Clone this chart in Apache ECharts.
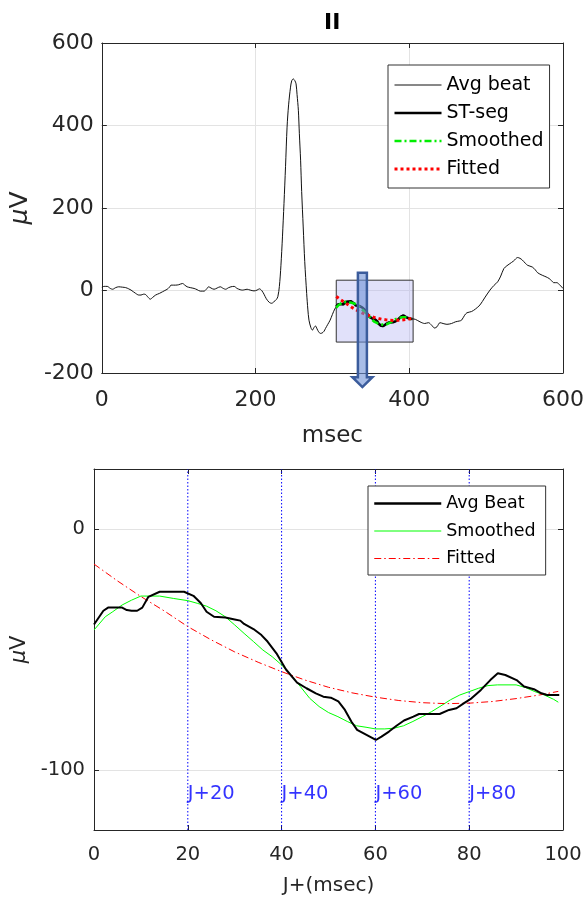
<!DOCTYPE html>
<html><head><meta charset="utf-8">
<script src="https://cdn.jsdelivr.net/npm/echarts@6/dist/echarts.min.js"></script>
<style>html,body{margin:0;padding:0;background:#fff}#c{width:587px;height:897px}</style>
</head><body><div id="c"></div>
<script>
const FONT = 'DejaVu Sans';

// ---------- Top panel: averaged beat, lead II (msec, µV) ----------
const beatPreMsec = [0,3,7,11,14,18,22,27,31,35,38,41,44,48,51,54,56,60,63,66,70,75,79,82,85,88,90,93,96,100,105,108,111,115,120,124,128,133,136,139,142,146,150,154,158,161,165,168,172,176,180,183,186,189,193,198,202,205,208,211,214,218,221,224,227,229,231,233,235,237,239,241,243,245.5,247,249,251,252.7,254,255.7,257,258.6,260,262,264,266.5,268,269.5,272,274,276,278,280,282,284.4,286.6,289,291,294,297,300,303];
const beatPreUv   = [8,10,10,5,3,7,9,8,7,4,1,-3,-7,-11,-11,-9,-9,-16,-21,-17,-11,-7,-3,0,3,8,13,13,13,14,17,13,9,7,5,2,-1.5,-1.5,3,9,6,3,6,9,5,3,7,9,10,5,2,1,2,3,1,-1,1,4,0,-9,-20,-29,-31,-27,-22,-15,10,60,130,211,300,396,450,493,508,513,509,501,475,437,380,316,240,154,70,-7,-45,-72,-90,-96,-90,-86,-93,-100,-104,-103,-99,-92,-82,-72,-58,-45];
const beatPostMsec = [408,414,420,425,429,433,436,440,444,449,455,460,465,468,472,475,481,486,492,498,505,510,515,519,523,527,530,536,541,544,547,551,554,560,564,567,573,578,582,585,588,592,596,600];
const beatPostUv   = [-70,-76,-80,-78,-84,-91,-88,-78,-80,-82,-80,-76,-74,-72,-60,-54,-51,-45,-35,-18,1,12,21,35,53,60,64,72,80,78,74,66,61,57,50,43,37,33,29,24,19,19,13,5];
const jPointMsec = 305;           // J point: start of the ST window
const stBoxMsec = [305, 405];     // highlighted window
const stBoxUv = [25, -125];
const arrowMsec = 339;            // arrow pointing to the zoomed panel
const arrowUv = [43, -210, -234]; // shaft top, head base, tip

// ---------- Bottom panel: ST segment (J+ msec, µV) ----------
const stMsec  = [0,2,3,6,7,8,9.2,10.3,11.6,14,19.2,21.2,22.8,24,25.6,28,30,31.2,32,34,35.7,37,38.9,40.9,43.3,45.3,47.3,48.9,50.5,52.1,53.5,54.9,56.1,58.1,60.1,61.3,62.9,64.5,66.1,68.1,69.3,73.7,75.7,77.3,78.9,80.5,82.5,84.5,86.1,87.7,90.1,91.7,93.8,95.4,96.6,99.2];
const stAvgUv = [-39.6,-33.9,-32.6,-32.6,-33.6,-33.9,-33.9,-32.6,-28.1,-26,-26,-27.7,-30.8,-34.3,-36.4,-36.7,-37.5,-38,-39.4,-41.5,-44,-46.7,-51.6,-58.2,-63.8,-66.1,-68.2,-69.6,-70,-71.6,-75.1,-80,-83.4,-85.5,-87.6,-86.2,-84.1,-81.7,-79.5,-77.9,-76.8,-76.8,-75.1,-74.4,-72.3,-70.3,-66.8,-62.7,-59.9,-60.6,-62.7,-65.4,-66.5,-68.2,-68.9,-68.9];
const smMsec  = [0,2.4,4,6,8,10,14,17,20,22,24,26,28,30,32,34,36,38,40,42,44,46,48,50,52,54,56,58,60,62,64,66,68,70,72,74,76,78,80,82,84,86,90,92,94,96,98,99];
const smUv    = [-41.9,-36.4,-34.3,-31.5,-29.5,-27.8,-27.8,-28.8,-29.7,-30.8,-32,-33.9,-36.4,-39.8,-43.3,-46.7,-50.2,-53,-56.4,-60.6,-65.4,-70.3,-73.7,-76.2,-77.9,-79.9,-81.7,-82.3,-83,-83,-82.7,-81.7,-79.9,-77.9,-75.8,-73.4,-70.9,-68.9,-67.5,-66.1,-65,-64.7,-64.7,-65.8,-67.5,-68.9,-70.7,-71.9];
const fitMsec = [0,5,10,15,20,25,30,35,40,45,50,55,60,65,70,75,80,85,90,95,99];
const fitUv   = [-14.5,-21.5,-28,-34,-40.5,-46,-51,-55.3,-59.2,-62.7,-65.7,-68,-69.8,-71.2,-72.1,-72.5,-72.3,-71.6,-70.4,-68.9,-67.4];
const jMarkMsec = [20, 40, 60, 80];
const jMarkLabels = ['J+20', 'J+40', 'J+60', 'J+80'];
const jLabelUv = -110;

// tick values
const topXTicks = [0, 600, 200];      // min, max, interval
const topYTicks = [-200, 600, 200];
const botXTicks = [0, 100, 20];
const botYRange = [-125, 25];
const botYTickValues = [-100, 0];

// ---------- helpers ----------
const zip = (xs, ys, dx = 0) => xs.map((x, i) => [x + dx, ys[i]]);
const AX = '#262626';
const GRID = '#e3e3e3';
const JBLUE = '#0000ff';

function axisBase(extra) {
  return Object.assign({
    type: 'value',
    axisLine: { show: true, onZero: false, lineStyle: { color: AX, width: 1 } },
    axisTick: { show: true, inside: true, length: 5, lineStyle: { color: AX } },
    splitLine: { show: false },
    axisLabel: { show: false }
  }, extra);
}

const topAvg = zip(beatPreMsec, beatPreUv)
  .concat(zip(stMsec, stAvgUv, jPointMsec))
  .concat(zip(beatPostMsec, beatPostUv));

const styles = {
  avgTop: { color: '#111', width: 1 },
  stTop: { color: '#000', width: 2.6 },
  smTop: { color: '#00ee00', width: 2.6, type: [7, 3, 2, 3] },
  fitTop: { color: '#ff0000', width: 3, type: [3, 3] },
  avgBot: { color: '#000', width: 2 },
  smBot: { color: '#00ff00', width: 1 },
  fitBot: { color: '#ff0000', width: 1, type: [7, 3, 1.5, 3] },
  jLine: { color: JBLUE, width: 1, type: [1.5, 2] }
};

const jLineSeries = jMarkMsec.map(v => ({
  name: 'J+' + v + ' line', type: 'line', xAxisIndex: 2, yAxisIndex: 2, z: 2,
  data: [[v, botYRange[0]], [v, botYRange[1]]], symbol: 'none', silent: true,
  lineStyle: styles.jLine, itemStyle: { color: JBLUE }
}));

const chart = echarts.init(document.getElementById('c'), null, { renderer: 'canvas' });

const option = {
  animation: false,
  backgroundColor: '#fff',
  textStyle: { fontFamily: FONT },
  title: {
    text: 'II', left: 324, top: 12, padding: 0,
    textStyle: { fontFamily: FONT, fontSize: 22, fontWeight: 'bold', color: '#000' }
  },
  grid: [
    { left: 101, top: 43, width: 462, height: 330 },
    { left: 94, top: 469, width: 469, height: 361 }
  ],
  legend: [
    {
      data: [
        { name: 'Avg beat', lineStyle: styles.avgTop },
        { name: 'ST-seg', lineStyle: styles.stTop },
        { name: 'Smoothed', lineStyle: styles.smTop },
        { name: 'Fitted', lineStyle: styles.fitTop }
      ],
      orient: 'vertical', left: 388, top: 65,
      padding: [10, 6, 9, 5], itemGap: 8, itemWidth: 47, itemHeight: 12,
      backgroundColor: '#fff', borderColor: '#333', borderWidth: 1, borderRadius: 0,
      selectedMode: false,
      itemStyle: { opacity: 0 },
      textStyle: { fontFamily: FONT, fontSize: 19, color: '#000', lineHeight: 20 }
    },
    {
      data: [
        { name: 'Avg Beat', lineStyle: { color: '#000', width: 2.5 } },
        { name: 'Smoothed_b', lineStyle: styles.smBot },
        { name: 'Fitted_b', lineStyle: styles.fitBot }
      ],
      formatter: n => n.replace(/_b$/, ''),
      orient: 'vertical', left: 368, top: 486,
      padding: [8, 10, 7, 5], itemGap: 8.5, itemWidth: 67, itemHeight: 12,
      backgroundColor: '#fff', borderColor: '#333', borderWidth: 1, borderRadius: 0,
      selectedMode: false,
      itemStyle: { opacity: 0 },
      textStyle: { fontFamily: FONT, fontSize: 17.5, color: '#000', lineHeight: 19 }
    }
  ],
  xAxis: [
    axisBase({
      gridIndex: 0, position: 'bottom', min: topXTicks[0], max: topXTicks[1], interval: topXTicks[2],
      axisLabel: { show: true, color: AX, fontSize: 22, fontFamily: FONT, margin: 16 },
      splitLine: { show: true, lineStyle: { color: GRID, width: 1 } },
      name: 'msec', nameLocation: 'middle', nameGap: 52,
      nameTextStyle: { fontFamily: FONT, fontSize: 23, color: AX }
    }),
    axisBase({ gridIndex: 0, position: 'top', min: topXTicks[0], max: topXTicks[1], interval: topXTicks[2] }),
    axisBase({
      gridIndex: 1, position: 'bottom', min: botXTicks[0], max: botXTicks[1], interval: botXTicks[2],
      axisLabel: { show: true, color: AX, fontSize: 19.5, fontFamily: FONT, margin: 15 },
      splitLine: { show: false },
      name: 'J+(msec)', nameLocation: 'middle', nameGap: 46,
      nameTextStyle: { fontFamily: FONT, fontSize: 20, color: AX }
    }),
    axisBase({ gridIndex: 1, position: 'top', min: botXTicks[0], max: botXTicks[1], interval: botXTicks[2] })
  ],
  yAxis: [
    axisBase({
      gridIndex: 0, position: 'left', min: topYTicks[0], max: topYTicks[1], interval: topYTicks[2],
      axisLabel: { show: true, color: AX, fontSize: 22, fontFamily: FONT, margin: 8 },
      splitLine: { show: true, lineStyle: { color: GRID, width: 1 } },
      name: '{i|μ}V', nameLocation: 'middle', nameGap: 54, nameRotate: 90,
      nameTextStyle: { fontFamily: FONT, fontSize: 25, color: AX, rich: { i: { fontFamily: FONT, fontSize: 25, fontStyle: 'italic', color: AX } } }
    }),
    axisBase({ gridIndex: 0, position: 'right', min: topYTicks[0], max: topYTicks[1], interval: topYTicks[2] }),
    axisBase({
      gridIndex: 1, position: 'left', min: botYRange[0], max: botYRange[1],
      axisTick: { show: true, inside: true, length: 5, lineStyle: { color: AX }, customValues: botYTickValues },
      axisLabel: { show: true, color: AX, fontSize: 19.5, fontFamily: FONT, margin: 9, customValues: botYTickValues },
      splitLine: { show: true, lineStyle: { color: GRID, width: 1 } },
      name: '{i|μ}V', nameLocation: 'middle', nameGap: 54, nameRotate: 90,
      nameTextStyle: { fontFamily: FONT, fontSize: 21, color: AX, rich: { i: { fontFamily: FONT, fontSize: 21, fontStyle: 'italic', color: AX } } }
    }),
    axisBase({
      gridIndex: 1, position: 'right', min: botYRange[0], max: botYRange[1],
      axisTick: { show: true, inside: true, length: 5, lineStyle: { color: AX }, customValues: botYTickValues },
      axisLabel: { show: false, customValues: botYTickValues }
    })
  ],
  series: [
    {
      name: 'Avg beat', type: 'line', xAxisIndex: 0, yAxisIndex: 0, z: 2,
      data: topAvg, showSymbol: false, symbol: 'none', smooth: 0.3,
      lineStyle: styles.avgTop, itemStyle: { color: '#111' },
      markArea: {
        silent: true,
        itemStyle: { color: 'rgba(170,170,240,0.35)', borderColor: '#333', borderWidth: 1 },
        data: [[{ coord: [stBoxMsec[0], stBoxUv[0]] }, { coord: [stBoxMsec[1], stBoxUv[1]] }]]
      }
    },
    {
      name: 'ST-seg', type: 'line', xAxisIndex: 0, yAxisIndex: 0, z: 3,
      data: zip(stMsec, stAvgUv, jPointMsec), symbol: 'none',
      lineStyle: styles.stTop, itemStyle: { color: '#000' }
    },
    {
      name: 'Smoothed', type: 'line', xAxisIndex: 0, yAxisIndex: 0, z: 4,
      data: zip(smMsec, smUv, jPointMsec), symbol: 'none',
      lineStyle: styles.smTop, itemStyle: { color: '#00ee00' }
    },
    {
      name: 'Fitted', type: 'line', xAxisIndex: 0, yAxisIndex: 0, z: 5,
      data: zip(fitMsec, fitUv, jPointMsec), symbol: 'none',
      lineStyle: styles.fitTop, itemStyle: { color: '#ff0000' }
    },
    ...jLineSeries,
    {
      name: 'Avg Beat', type: 'line', xAxisIndex: 2, yAxisIndex: 2, z: 4,
      data: zip(stMsec, stAvgUv), symbol: 'none',
      lineStyle: styles.avgBot, itemStyle: { color: '#000' }
    },
    {
      name: 'Smoothed_b', type: 'line', xAxisIndex: 2, yAxisIndex: 2, z: 3,
      data: zip(smMsec, smUv), symbol: 'none',
      lineStyle: styles.smBot, itemStyle: { color: '#00ff00' }
    },
    {
      name: 'Fitted_b', type: 'line', xAxisIndex: 2, yAxisIndex: 2, z: 3,
      data: zip(fitMsec, fitUv), symbol: 'none',
      lineStyle: styles.fitBot, itemStyle: { color: '#ff0000' }
    },
    {
      name: 'J labels', type: 'scatter', xAxisIndex: 2, yAxisIndex: 2, z: 6,
      data: jMarkMsec.map((v, i) => ({ value: [v, jLabelUv], label: { formatter: jMarkLabels[i] } })),
      symbolSize: 0, silent: true,
      itemStyle: { color: JBLUE },
      label: { show: true, position: 'right', distance: 0, color: JBLUE, fontFamily: FONT, fontSize: 19.5 }
    }
  ]
};
chart.setOption(option);

// Arrow from the highlighted window toward the zoomed panel (placed in data coordinates)
const pTop = chart.convertToPixel({ xAxisIndex: 0, yAxisIndex: 0 }, [arrowMsec, arrowUv[0]]);
const pHead = chart.convertToPixel({ xAxisIndex: 0, yAxisIndex: 0 }, [arrowMsec, arrowUv[1]]);
const pTip = chart.convertToPixel({ xAxisIndex: 0, yAxisIndex: 0 }, [arrowMsec, arrowUv[2]]);
const cx = pTop[0], hw = 4.5, hh = 10;
chart.setOption({
  graphic: [{
    type: 'polygon', z: 100,
    shape: { points: [[cx - hw, pTop[1]], [cx + hw, pTop[1]], [cx + hw, pHead[1]], [cx + hh, pHead[1]], [cx, pTip[1]], [cx - hh, pHead[1]], [cx - hw, pHead[1]]] },
    style: { fill: 'rgba(110,145,215,0.6)', stroke: '#3b5c9c', lineWidth: 2.5 }
  }]
});
</script>
</body></html>
